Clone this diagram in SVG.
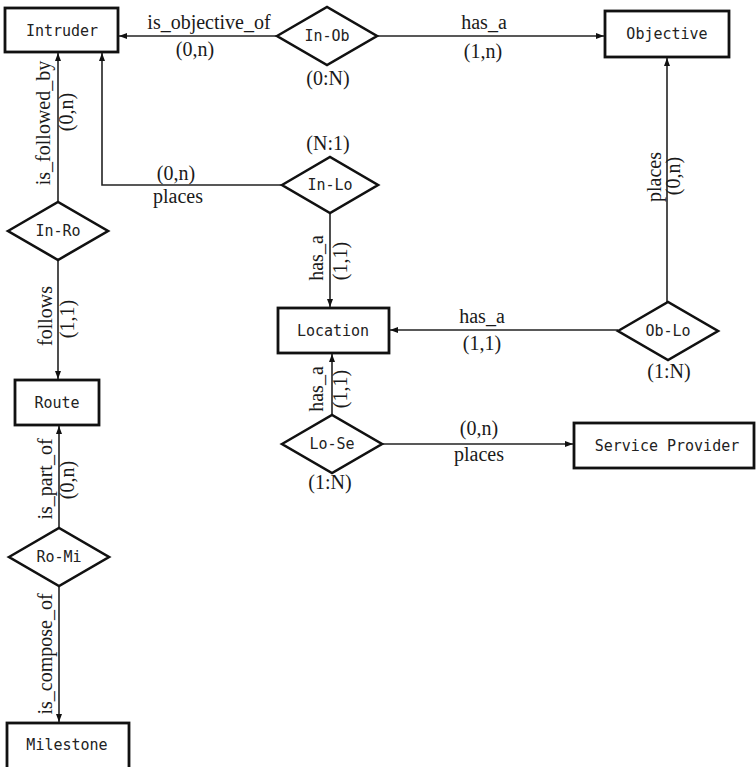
<svg xmlns="http://www.w3.org/2000/svg" width="756" height="767" viewBox="0 0 756 767">
  <style>
    .entity { fill: #ffffff; stroke: #111111; stroke-width: 2.8; }
    .rel { fill: #ffffff; stroke: #111111; stroke-width: 2.6; stroke-linejoin: miter; }
    .name { font-family: "DejaVu Sans Mono", "Liberation Mono", monospace; font-size: 15px; fill: #222222; text-anchor: middle; dominant-baseline: central; }
    .edge { fill: none; stroke: #222222; stroke-width: 1.6; }
    .lbl { font-family: "Liberation Serif", "Times New Roman", serif; font-size: 20px; fill: #1a1a1a; text-anchor: middle; }
  </style>
  <defs>
    <marker id="arrow" viewBox="0 0 8 6" refX="8" refY="3" markerWidth="8" markerHeight="6" markerUnits="userSpaceOnUse" orient="auto">
      <path d="M0,0 L8,3 L0,6 Z" fill="#111111"/>
    </marker>
  </defs>
  <rect width="756" height="767" fill="#ffffff"/>

  <!-- connectors -->
  <g id="connectors">
    <path class="edge" d="M277,36 H119" marker-end="url(#arrow)"/>
    <path class="edge" d="M377,36 H604" marker-end="url(#arrow)"/>
    <path class="edge" d="M58,202 V53" marker-end="url(#arrow)"/>
    <path class="edge" d="M282,185 H102 V53" marker-end="url(#arrow)"/>
    <path class="edge" d="M330,213 V307" marker-end="url(#arrow)"/>
    <path class="edge" d="M667,302 V58" marker-end="url(#arrow)"/>
    <path class="edge" d="M618,330 H390" marker-end="url(#arrow)"/>
    <path class="edge" d="M332,415 V354" marker-end="url(#arrow)"/>
    <path class="edge" d="M382,444 H573" marker-end="url(#arrow)"/>
    <path class="edge" d="M58,260 V379" marker-end="url(#arrow)"/>
    <path class="edge" d="M59,528 V426" marker-end="url(#arrow)"/>
    <path class="edge" d="M59,586 V722" marker-end="url(#arrow)"/>
  </g>

  <!-- connector labels -->
  <g id="labels">
    <text class="lbl" x="209" y="29">is_objective_of</text>
    <text class="lbl" x="195" y="56">(0,n)</text>
    <text class="lbl" x="484" y="29">has_a</text>
    <text class="lbl" x="483" y="58">(1,n)</text>
    <text class="lbl" x="328" y="85">(0:N)</text>
    <text class="lbl" x="328" y="150">(N:1)</text>
    <text class="lbl" x="176" y="180">(0,n)</text>
    <text class="lbl" x="178" y="203">places</text>
    <text class="lbl" x="482" y="323">has_a</text>
    <text class="lbl" x="482" y="350">(1,1)</text>
    <text class="lbl" x="669" y="378">(1:N)</text>
    <text class="lbl" x="479" y="435">(0,n)</text>
    <text class="lbl" x="479" y="461">places</text>
    <text class="lbl" x="330" y="489">(1:N)</text>
    <text class="lbl" transform="translate(50,123) rotate(-90)">is_followed_by</text>
    <text class="lbl" transform="translate(73,112) rotate(-90)">(0,n)</text>
    <text class="lbl" transform="translate(52,316) rotate(-90)">follows</text>
    <text class="lbl" transform="translate(74,319) rotate(-90)">(1,1)</text>
    <text class="lbl" transform="translate(52,479) rotate(-90)">is_part_of</text>
    <text class="lbl" transform="translate(74,480) rotate(-90)">(0,n)</text>
    <text class="lbl" transform="translate(52,654) rotate(-90)">is_compose_of</text>
    <text class="lbl" transform="translate(323,258) rotate(-90)">has_a</text>
    <text class="lbl" transform="translate(347,261) rotate(-90)">(1,1)</text>
    <text class="lbl" transform="translate(323,389) rotate(-90)">has_a</text>
    <text class="lbl" transform="translate(347,389) rotate(-90)">(1,1)</text>
    <text class="lbl" transform="translate(661,177) rotate(-90)">places</text>
    <text class="lbl" transform="translate(680,176) rotate(-90)">(0,n)</text>
  </g>

  <!-- entities -->
  <g id="intruder">
    <rect class="entity" x="5" y="8" width="113" height="44"/>
    <text class="name" x="62" y="31">Intruder</text>
  </g>
  <g id="objective">
    <rect class="entity" x="605" y="11" width="124" height="46"/>
    <text class="name" x="667" y="34">Objective</text>
  </g>
  <g id="location">
    <rect class="entity" x="278" y="308" width="111" height="45"/>
    <text class="name" x="333" y="331">Location</text>
  </g>
  <g id="route">
    <rect class="entity" x="15" y="380" width="84" height="45"/>
    <text class="name" x="57" y="403">Route</text>
  </g>
  <g id="service-provider">
    <rect class="entity" x="574" y="423" width="180" height="45"/>
    <text class="name" x="667" y="446">Service Provider</text>
  </g>
  <g id="milestone">
    <rect class="entity" x="7" y="723" width="122" height="52"/>
    <text class="name" x="67" y="745">Milestone</text>
  </g>

  <!-- relationships -->
  <g id="in-ob">
    <polygon class="rel" points="277,36 327,7 377,36 327,65"/>
    <text class="name" x="327" y="36">In-Ob</text>
  </g>
  <g id="in-lo">
    <polygon class="rel" points="282,185 330,157 378,185 330,213"/>
    <text class="name" x="330" y="185">In-Lo</text>
  </g>
  <g id="ob-lo">
    <polygon class="rel" points="618,331 668,302 718,331 668,360"/>
    <text class="name" x="668" y="331">Ob-Lo</text>
  </g>
  <g id="lo-se">
    <polygon class="rel" points="282,444 332,415 382,444 332,473"/>
    <text class="name" x="332" y="444">Lo-Se</text>
  </g>
  <g id="in-ro">
    <polygon class="rel" points="8,231 58,202 108,231 58,260"/>
    <text class="name" x="58" y="231">In-Ro</text>
  </g>
  <g id="ro-mi">
    <polygon class="rel" points="9,557 59,528 109,557 59,586"/>
    <text class="name" x="59" y="557">Ro-Mi</text>
  </g>
</svg>
